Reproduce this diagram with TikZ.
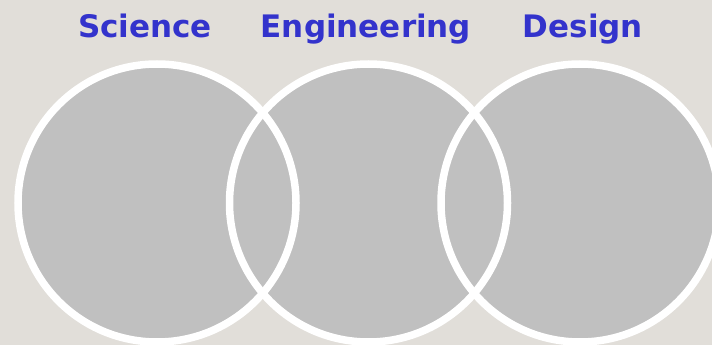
\documentclass[tikz,border=0pt]{standalone}
\usepackage{fontspec}
\setsansfont{DejaVu Sans}
\usepackage{xcolor}
\definecolor{bgcol}{HTML}{E1DED9}
\definecolor{discgray}{HTML}{C0C0C0}
\definecolor{lblblue}{HTML}{3333CC}
\tikzset{
	disc/.style={fill=discgray},
	rim/.style={draw=white,line width=7.5pt},
	lbl/.style={font=\sffamily\bfseries\fontsize{31}{36}\selectfont,text=lblblue,anchor=base,inner sep=0pt}
}

\begin{document}
\begin{tikzpicture}[x=1pt,y=-1pt]
	\fill[bgcol](0,0)rectangle(712,345);
	\useasboundingbox(0,0)rectangle(712,345);
	\clip(0,0)rectangle(712,345);
	% centres of the three circles
	\coordinate(sci)at(157,203);
	\coordinate(eng)at(368.5,203);
	\coordinate(des)at(580,203);
	\foreach \c in {sci,eng,des} \fill[disc](\c)circle(139);
	\foreach \c in {sci,eng,des} \draw[rim](\c)circle(139);
	\node[lbl](Lsci)at(145,38){Science};
	\node[lbl](Leng)at(366,38){Engineering};
	\node[lbl](Ldes)at(583,38){Design};
\end{tikzpicture}
\end{document}
